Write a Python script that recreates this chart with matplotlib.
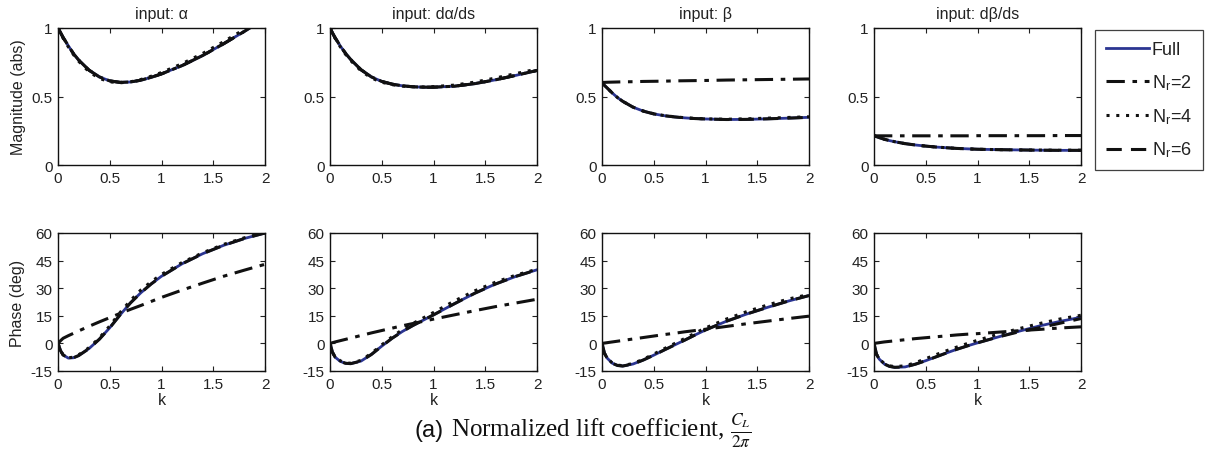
import matplotlib
matplotlib.use("Agg")
import matplotlib.pyplot as plt
from matplotlib.lines import Line2D

plt.rcParams['font.family'] = ['Liberation Sans', 'DejaVu Sans']
plt.rcParams['mathtext.fontset'] = 'stix'

# ---------------- data ----------------
k = [0, 0.025, 0.05, 0.1, 0.15, 0.2, 0.3, 0.4, 0.5, 0.6, 0.7, 0.8, 0.9, 1.0, 1.2, 1.4, 1.6, 1.8, 2.0]

titles = ["input: α", "input: dα/ds", "input: β", "input: dβ/ds"]
series_labels = ["Full", "N$_\\mathregular{r}$=2", "N$_\\mathregular{r}$=4", "N$_\\mathregular{r}$=6"]

# magnitude, input alpha
mag_a_full = [1.0, 0.965, 0.93, 0.87, 0.812, 0.766, 0.692, 0.643, 0.614, 0.603, 0.606, 0.619, 0.64, 0.665, 0.726, 0.80, 0.885, 0.975, 1.07]
mag_a_n2 = [1.0, 0.965, 0.93, 0.87, 0.812, 0.766, 0.692, 0.643, 0.614, 0.603, 0.606, 0.619, 0.64, 0.665, 0.726, 0.80, 0.885, 0.975, 1.07]
mag_a_n4 = [1.0, 0.962, 0.925, 0.862, 0.805, 0.757, 0.68, 0.632, 0.607, 0.60, 0.607, 0.624, 0.648, 0.675, 0.74, 0.815, 0.90, 0.99, 1.08]
mag_a_n6 = [1.0, 0.965, 0.93, 0.87, 0.812, 0.766, 0.692, 0.643, 0.614, 0.603, 0.606, 0.619, 0.64, 0.665, 0.726, 0.80, 0.885, 0.975, 1.07]

# magnitude, input dalpha/ds
mag_da_full = [1.0, 0.962, 0.928, 0.868, 0.815, 0.77, 0.695, 0.643, 0.61, 0.59, 0.578, 0.571, 0.568, 0.568, 0.575, 0.594, 0.622, 0.655, 0.69]
mag_da_n2 = [1.0, 0.962, 0.928, 0.868, 0.815, 0.77, 0.695, 0.643, 0.61, 0.59, 0.578, 0.571, 0.568, 0.568, 0.575, 0.594, 0.622, 0.655, 0.69]
mag_da_n4 = [1.0, 0.96, 0.924, 0.862, 0.808, 0.762, 0.687, 0.635, 0.604, 0.586, 0.576, 0.571, 0.57, 0.572, 0.583, 0.605, 0.635, 0.668, 0.70]
mag_da_n6 = [1.0, 0.962, 0.928, 0.868, 0.815, 0.77, 0.695, 0.643, 0.61, 0.59, 0.578, 0.571, 0.568, 0.568, 0.575, 0.594, 0.622, 0.655, 0.69]

# magnitude, input beta
mag_b_full = [0.60, 0.58, 0.562, 0.525, 0.492, 0.465, 0.422, 0.393, 0.373, 0.36, 0.351, 0.344, 0.339, 0.336, 0.332, 0.333, 0.337, 0.342, 0.348]
mag_b_n2 = [0.603, 0.603, 0.604, 0.605, 0.606, 0.607, 0.608, 0.61, 0.611, 0.612, 0.614, 0.615, 0.616, 0.617, 0.62, 0.622, 0.624, 0.626, 0.628]
mag_b_n4 = [0.60, 0.58, 0.562, 0.525, 0.492, 0.465, 0.422, 0.394, 0.374, 0.361, 0.352, 0.345, 0.34, 0.337, 0.334, 0.337, 0.342, 0.347, 0.352]
mag_b_n6 = [0.60, 0.58, 0.562, 0.525, 0.492, 0.465, 0.422, 0.393, 0.373, 0.36, 0.351, 0.344, 0.339, 0.336, 0.332, 0.333, 0.337, 0.342, 0.348]

# magnitude, input dbeta/ds
mag_db_full = [0.215, 0.207, 0.20, 0.188, 0.178, 0.17, 0.156, 0.146, 0.138, 0.131, 0.126, 0.121, 0.118, 0.115, 0.112, 0.11, 0.108, 0.107, 0.107]
mag_db_n2 = [0.213, 0.213, 0.213, 0.213, 0.213, 0.213, 0.213, 0.213, 0.213, 0.213, 0.213, 0.213, 0.213, 0.214, 0.214, 0.214, 0.214, 0.215, 0.215]
mag_db_n4 = [0.215, 0.207, 0.20, 0.188, 0.178, 0.17, 0.156, 0.146, 0.138, 0.131, 0.126, 0.121, 0.118, 0.115, 0.112, 0.11, 0.109, 0.108, 0.108]
mag_db_n6 = [0.215, 0.207, 0.20, 0.188, 0.178, 0.17, 0.156, 0.146, 0.138, 0.131, 0.126, 0.121, 0.118, 0.115, 0.112, 0.11, 0.108, 0.107, 0.107]

# phase, input alpha
ph_a_full = [0, -4.0, -6.3, -8.0, -7.8, -6.6, -2.8, 2.3, 8.5, 15.5, 22.0, 27.5, 32.3, 36.5, 43.3, 48.8, 53.3, 57.0, 60.0]
ph_a_n2 = [0, 1.5, 2.8, 4.2, 5.5, 6.8, 9.3, 11.7, 14.0, 16.3, 18.5, 20.6, 22.8, 25.0, 29.0, 32.8, 36.5, 39.8, 43.0]
ph_a_n4 = [0, -4.0, -6.3, -7.8, -7.5, -6.2, -2.3, 3.0, 9.5, 16.8, 23.3, 29.0, 33.5, 37.5, 44.0, 49.3, 53.8, 57.4, 60.2]
ph_a_n6 = [0, -4.0, -6.3, -8.0, -7.8, -6.6, -2.8, 2.3, 8.5, 15.5, 22.0, 27.5, 32.3, 36.5, 43.3, 48.8, 53.3, 57.0, 60.0]

# phase, input dalpha/ds
ph_da_full = [0, -5.0, -7.5, -9.8, -10.8, -11.0, -9.6, -6.0, -1.5, 2.8, 6.5, 9.7, 12.6, 15.5, 21.5, 27.3, 32.3, 36.5, 40.0]
ph_da_n2 = [0, 0.4, 0.8, 1.5, 2.2, 2.9, 4.3, 5.7, 7.0, 8.3, 9.6, 10.8, 12.0, 13.2, 15.5, 17.8, 20.0, 22.0, 24.0]
ph_da_n4 = [0, -5.0, -7.3, -9.5, -10.5, -10.8, -9.2, -5.4, -0.8, 3.6, 7.5, 10.8, 13.8, 16.8, 23.0, 28.6, 33.3, 37.2, 40.3]
ph_da_n6 = [0, -5.0, -7.5, -9.8, -10.8, -11.0, -9.6, -6.0, -1.5, 2.8, 6.5, 9.7, 12.6, 15.5, 21.5, 27.3, 32.3, 36.5, 40.0]

# phase, input beta
ph_b_full = [0, -5.5, -8.0, -10.8, -12.0, -12.3, -11.2, -9.0, -6.4, -3.6, -0.9, 1.8, 4.6, 7.3, 12.0, 16.0, 19.6, 23.0, 26.0]
ph_b_n2 = [0, 0.2, 0.4, 0.8, 1.2, 1.6, 2.4, 3.2, 4.0, 4.8, 5.5, 6.3, 7.0, 7.7, 9.2, 10.7, 12.1, 13.5, 14.8]
ph_b_n4 = [0, -5.5, -8.0, -10.7, -11.8, -12.1, -10.9, -8.6, -5.8, -2.9, -0.1, 2.7, 5.6, 8.4, 13.2, 17.3, 20.9, 24.1, 26.6]
ph_b_n6 = [0, -5.5, -8.0, -10.8, -12.0, -12.3, -11.2, -9.0, -6.4, -3.6, -0.9, 1.8, 4.6, 7.3, 12.0, 16.0, 19.6, 23.0, 26.0]

# phase, input dbeta/ds
ph_db_full = [0, -6.0, -8.5, -11.2, -12.5, -13.0, -12.8, -11.3, -9.4, -7.3, -5.2, -3.2, -1.4, 0.3, 3.5, 6.6, 9.5, 12.0, 14.2]
ph_db_n2 = [0, 0.2, 0.4, 0.8, 1.1, 1.4, 2.0, 2.6, 3.1, 3.6, 4.1, 4.6, 5.0, 5.3, 6.1, 6.9, 7.6, 8.4, 9.0]
ph_db_n4 = [0, -6.0, -8.4, -11.0, -12.2, -12.6, -12.2, -10.5, -8.3, -6.1, -4.0, -2.0, -0.1, 1.7, 5.0, 8.0, 10.8, 13.3, 15.3]
ph_db_n6 = [0, -6.0, -8.5, -11.2, -12.5, -13.0, -12.8, -11.3, -9.4, -7.3, -5.2, -3.2, -1.4, 0.3, 3.5, 6.3, 8.5, 11.0, 13.5]

mag_data = [
    (mag_a_full, mag_a_n2, mag_a_n4, mag_a_n6),
    (mag_da_full, mag_da_n2, mag_da_n4, mag_da_n6),
    (mag_b_full, mag_b_n2, mag_b_n4, mag_b_n6),
    (mag_db_full, mag_db_n2, mag_db_n4, mag_db_n6),
]
ph_data = [
    (ph_a_full, ph_a_n2, ph_a_n4, ph_a_n6),
    (ph_da_full, ph_da_n2, ph_da_n4, ph_da_n6),
    (ph_b_full, ph_b_n2, ph_b_n4, ph_b_n6),
    (ph_db_full, ph_db_n2, ph_db_n4, ph_db_n6),
]

xticks = [0, 0.5, 1, 1.5, 2]
xticklabels = ["0", "0.5", "1", "1.5", "2"]
mag_ticks = [0, 0.5, 1]
mag_ticklabels = ["0", "0.5", "1"]
ph_ticks = [-15, 0, 15, 30, 45, 60]
ph_ticklabels = ["-15", "0", "15", "30", "45", "60"]

# ---------------- styling ----------------
W, H = 1207, 456
BLUE = '#2b3592'
BLACK = '#111111'
styles = [
    dict(color=BLUE, lw=2.0, ls='-'),
    dict(color=BLACK, lw=2.2, ls=(0, (6, 2.5, 1.5, 2.5))),
    dict(color=BLACK, lw=2.2, ls=(0, (1, 2.2))),
    dict(color=BLACK, lw=2.2, ls=(0, (5, 3))),
]
TXT = '#222222'

fig = plt.figure(figsize=(W / 100, H / 100), dpi=100)

lefts = [58, 330, 602, 874]
aw = 207
rows = [(29, 166), (234, 372)]


def make_ax(x0, ytop, ybot):
    return fig.add_axes([x0 / W, 1 - ybot / H, aw / W, (ybot - ytop) / H])


def style_ax(ax):
    ax.tick_params(direction='in', top=True, right=True, length=3.5, width=0.8,
                   labelsize=11, colors=TXT, pad=4)
    ax.tick_params(axis='both', labelcolor=TXT)
    for s in ax.spines.values():
        s.set_linewidth(1.0)
        s.set_color('#111111')


for i in range(4):
    ax = make_ax(lefts[i], *rows[0])
    for ser, st in zip(mag_data[i], styles):
        ax.plot(k, ser, **st)
    ax.set_xlim(0, 2)
    ax.set_ylim(0, 1)
    ax.set_xticks(xticks)
    ax.set_xticklabels(xticklabels)
    ax.set_yticks(mag_ticks)
    ax.set_yticklabels(mag_ticklabels)
    ax.set_title(titles[i], fontsize=11.5, color=TXT, pad=7)
    style_ax(ax)
    if i == 0:
        ax.set_ylabel("Magnitude (abs)", fontsize=11.5, color=TXT, labelpad=4)

    ax2 = make_ax(lefts[i], *rows[1])
    for ser, st in zip(ph_data[i], styles):
        ax2.plot(k, ser, **st)
    ax2.set_xlim(0, 2)
    ax2.set_ylim(-15, 60)
    ax2.set_xticks(xticks)
    ax2.set_xticklabels(xticklabels)
    ax2.set_yticks(ph_ticks)
    ax2.set_yticklabels(ph_ticklabels)
    ax2.set_xlabel("k", fontsize=11.5, color=TXT, labelpad=1)
    style_ax(ax2)
    if i == 0:
        ax2.set_ylabel("Phase (deg)", fontsize=11.5, color=TXT, labelpad=4)

handles = [Line2D([], [], **st) for st in styles]
leg = fig.legend(handles, series_labels, loc='upper left',
                 bbox_to_anchor=(1095 / W, 1 - 31 / H), borderaxespad=0,
                 fancybox=False, fontsize=13, handlelength=2.4,
                 handletextpad=0.15, labelspacing=0.8, borderpad=0.6)
leg.get_frame().set_edgecolor('#111111')
leg.get_frame().set_linewidth(0.9)
for t in leg.get_texts():
    t.set_color(TXT)

fig.text(444 / W, 1 - 437 / H, "(a)", fontsize=17, ha='right', va='baseline',
         color=BLACK)
fig.text(451 / W, 1 - 437 / H, r"Normalized lift coefficient, $\frac{C_L}{2\pi}$",
         fontsize=18, ha='left', va='baseline', family='Liberation Serif', color=BLACK)

fig.savefig("out.png", dpi=100)
